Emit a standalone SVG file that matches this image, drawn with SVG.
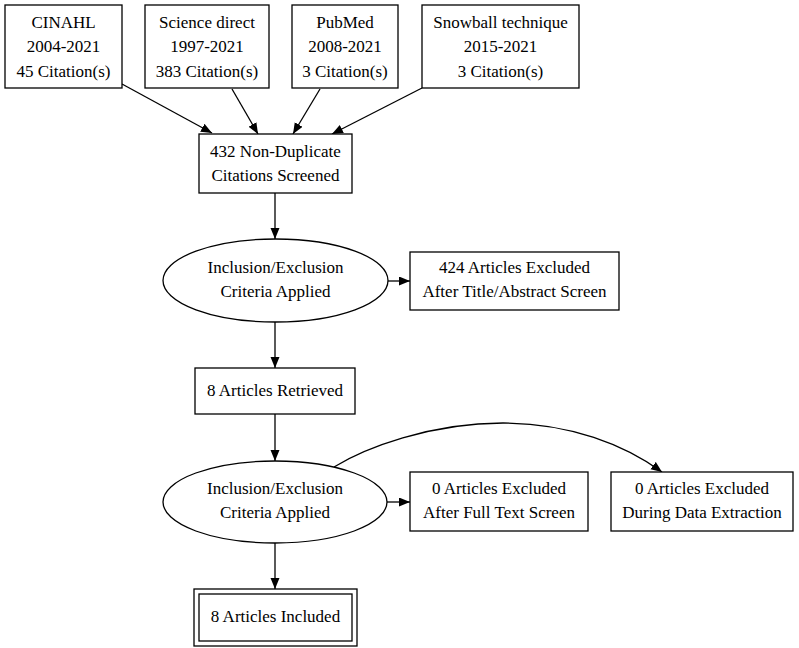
<svg xmlns="http://www.w3.org/2000/svg" width="799" height="648" viewBox="0 0 799 648">
<defs>
<marker id="ah" markerUnits="userSpaceOnUse" markerWidth="12" markerHeight="10" refX="11" refY="4.5" orient="auto">
<path d="M0,0 L11,4.5 L0,9 z" fill="#000"/>
</marker>
<style>
.n{fill:#fff;stroke:#000;stroke-width:1.3}
.t{font-family:"Liberation Serif","Times New Roman",serif;font-size:17px;fill:#000;text-anchor:middle}
.e{fill:none;stroke:#000;stroke-width:1.3;marker-end:url(#ah)}
</style>
</defs>
<rect width="799" height="648" fill="#fff"/>
<g id="edges">
<path class="e" d="M122,84 L212,133"/>
<path class="e" d="M232,89 L258,134"/>
<path class="e" d="M320,89 L293,134"/>
<path class="e" d="M422,88 L332,134"/>
<path class="e" d="M275,193 L275,239"/>
<path class="e" d="M388,281 L410,281"/>
<path class="e" d="M275,322 L275,368"/>
<path class="e" d="M275,414 L275,461"/>
<path class="e" d="M387,502 L410,502"/>
<path class="e" d="M275,543 L275,589"/>
<path class="e" d="M334,467 C365,448 430,423 503,423 C570,423 625,445 662,472"/>
</g>
<g id="cinahl">
<rect class="n" x="5" y="5" width="117" height="83"/>
<text class="t" x="63.5" y="28">CINAHL</text>
<text class="t" x="63.5" y="52">2004-2021</text>
<text class="t" x="63.5" y="77">45 Citation(s)</text>
</g>
<g id="sciencedirect">
<rect class="n" x="145" y="5" width="124" height="83"/>
<text class="t" x="207" y="28">Science direct</text>
<text class="t" x="207" y="52">1997-2021</text>
<text class="t" x="207" y="77">383 Citation(s)</text>
</g>
<g id="pubmed">
<rect class="n" x="292" y="5" width="106" height="83"/>
<text class="t" x="345" y="28">PubMed</text>
<text class="t" x="345" y="52">2008-2021</text>
<text class="t" x="345" y="77">3 Citation(s)</text>
</g>
<g id="snowball">
<rect class="n" x="422" y="5" width="157" height="83"/>
<text class="t" x="500.5" y="28">Snowball technique</text>
<text class="t" x="500.5" y="52">2015-2021</text>
<text class="t" x="500.5" y="77">3 Citation(s)</text>
</g>
<g id="screened">
<rect class="n" x="199" y="134" width="153" height="59"/>
<text class="t" x="275.5" y="157">432 Non-Duplicate</text>
<text class="t" x="275.5" y="181">Citations Screened</text>
</g>
<g id="criteria1">
<ellipse class="n" cx="275.5" cy="280.5" rx="112.5" ry="41.5"/>
<text class="t" x="275.5" y="273">Inclusion/Exclusion</text>
<text class="t" x="275.5" y="297">Criteria Applied</text>
</g>
<g id="excluded1">
<rect class="n" x="410" y="252" width="209" height="58"/>
<text class="t" x="514.5" y="273">424 Articles Excluded</text>
<text class="t" x="514.5" y="297">After Title/Abstract Screen</text>
</g>
<g id="retrieved">
<rect class="n" x="195" y="368" width="160" height="46"/>
<text class="t" x="275" y="396">8 Articles Retrieved</text>
</g>
<g id="criteria2">
<ellipse class="n" cx="275" cy="502" rx="112" ry="41"/>
<text class="t" x="275" y="494">Inclusion/Exclusion</text>
<text class="t" x="275" y="518">Criteria Applied</text>
</g>
<g id="excluded2">
<rect class="n" x="410" y="472" width="178" height="59"/>
<text class="t" x="499" y="494">0 Articles Excluded</text>
<text class="t" x="499" y="518">After Full Text Screen</text>
</g>
<g id="excluded3">
<rect class="n" x="611" y="472" width="182" height="59"/>
<text class="t" x="702" y="494">0 Articles Excluded</text>
<text class="t" x="702" y="518">During Data Extraction</text>
</g>
<g id="included">
<rect class="n" x="194" y="589" width="163" height="57"/>
<rect class="n" x="199" y="594" width="153" height="47"/>
<text class="t" x="275.5" y="622">8 Articles Included</text>
</g>
</svg>
